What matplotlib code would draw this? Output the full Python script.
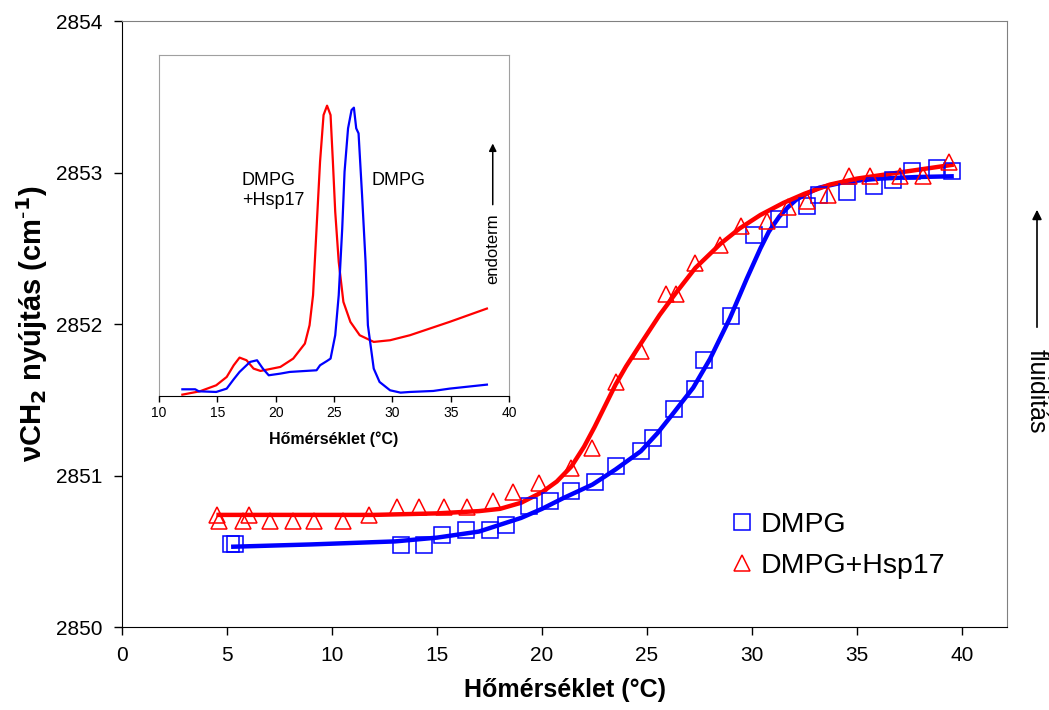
import numpy as np
import matplotlib.pyplot as plt

plt.rcParams['font.family'] = ['Liberation Sans', 'DejaVu Sans']

# ---- main plot: measured points ----
dmpg_x = [5.2, 5.4, 13.3, 14.4, 15.25, 16.4, 17.5, 18.3, 19.4, 20.4, 21.4, 22.5,
          23.5, 24.7, 25.3, 26.3, 27.3, 27.7, 29.0, 30.1, 31.3, 32.6, 33.2,
          34.5, 35.8, 36.7, 37.6, 38.8, 39.5]
dmpg_y = [2850.55, 2850.55, 2850.54, 2850.54, 2850.61, 2850.64, 2850.64, 2850.67,
          2850.80, 2850.83, 2850.90, 2850.96, 2851.06, 2851.16, 2851.25, 2851.44,
          2851.57, 2851.76, 2852.05, 2852.59, 2852.69, 2852.78, 2852.85, 2852.87,
          2852.91, 2852.95, 2853.01, 2853.03, 2853.01]

hsp_x = [4.5, 4.6, 5.75, 6.05, 7.05, 8.15, 9.15, 10.5, 11.75, 13.1, 14.15, 15.35,
         16.45, 17.65, 18.6, 19.85, 21.4, 22.4, 23.5, 24.7, 25.9, 26.4, 27.3,
         28.45, 29.45, 30.7, 31.7, 32.6, 33.6, 34.6, 35.6, 37.05, 38.15, 39.4]
hsp_y = [2850.74, 2850.70, 2850.70, 2850.74, 2850.70, 2850.70, 2850.70, 2850.70,
         2850.74, 2850.79, 2850.79, 2850.79, 2850.79, 2850.83, 2850.89, 2850.95,
         2851.05, 2851.18, 2851.62, 2851.82, 2852.20, 2852.20, 2852.40, 2852.52,
         2852.65, 2852.68, 2852.77, 2852.81, 2852.85, 2852.98, 2852.98, 2852.98,
         2852.98, 2853.07]

# fitted curves
fit_dmpg_x = [5.3, 9.0, 13.0, 15.0, 17.0, 19.0, 20.0, 21.0, 22.4, 23.5, 24.7,
              25.5, 26.3, 27.2, 28.0, 28.95, 29.75, 30.4, 30.8, 31.3, 31.7,
              32.1, 32.6, 33.2, 34.5, 36.1, 37.8, 39.5]
fit_dmpg_y = [2850.53, 2850.545, 2850.565, 2850.59, 2850.63, 2850.72, 2850.78,
              2850.85, 2850.94, 2851.04, 2851.16, 2851.28, 2851.42, 2851.58,
              2851.77, 2852.04, 2852.30, 2852.50, 2852.61, 2852.71, 2852.77,
              2852.82, 2852.86, 2852.90, 2852.94, 2852.96, 2852.97, 2852.975]

fit_hsp_x = [4.6, 8.0, 12.0, 15.0, 17.0, 18.0, 19.0, 20.0, 20.7, 21.4, 22.0,
             22.5, 23.0, 23.5, 24.0, 24.7, 25.6, 26.4, 27.3, 28.5, 29.4, 30.4,
             31.5, 32.5, 33.7, 35.0, 36.5, 38.0, 39.5]
fit_hsp_y = [2850.74, 2850.74, 2850.74, 2850.75, 2850.765, 2850.78, 2850.82,
             2850.89, 2850.96, 2851.06, 2851.19, 2851.32, 2851.46, 2851.60,
             2851.72, 2851.87, 2852.06, 2852.21, 2852.37, 2852.53, 2852.63,
             2852.72, 2852.80, 2852.86, 2852.92, 2852.96, 2852.99, 2853.02,
             2853.05]

# ---- inset: DSC curves ----
dsc_dmpg_x = [12.0, 13.1, 13.4, 14.9, 15.8, 16.4, 16.9, 17.8, 18.4, 18.9, 19.4,
              20.4, 21.2, 22.1, 23.5, 23.8, 24.4, 24.7, 25.1, 25.4, 25.7, 25.9,
              26.2, 26.5, 26.7, 26.9, 27.1, 27.4, 27.7, 27.9, 28.4, 28.9, 29.8,
              30.7, 31.5, 33.5, 34.9, 38.1]
dsc_dmpg_y = [2.0, 2.0, 1.4, 1.2, 2.2, 5.0, 7.2, 10.2, 10.7, 8.2, 6.2, 6.7, 7.2,
              7.4, 7.7, 9.2, 10.5, 11.2, 18.2, 30.2, 50.2, 67.2, 80.2, 85.7,
              86.4, 80.2, 78.7, 60.2, 40.2, 21.2, 8.2, 4.2, 1.7, 1.0, 1.2, 1.5,
              2.2, 3.4]

dsc_hsp_x = [12.0, 13.5, 14.9, 15.8, 16.4, 16.9, 17.5, 18.1, 18.7, 20.4, 21.5,
             22.5, 22.9, 23.2, 23.5, 23.8, 24.1, 24.4, 24.7, 24.9, 25.1, 25.4,
             25.8, 26.4, 27.2, 28.4, 29.8, 31.5, 34.9, 36.9, 38.1]
dsc_hsp_y = [0.4, 1.4, 3.2, 5.7, 9.2, 11.5, 10.7, 8.2, 7.5, 8.7, 11.2, 15.7,
             21.2, 30.2, 50.2, 70.2, 84.2, 87.0, 84.2, 70.2, 55.2, 40.2, 28.2,
             22.2, 18.2, 16.2, 16.7, 18.2, 22.2, 24.7, 26.2]

fig = plt.figure(figsize=(10.49, 7.10), dpi=100)
ax = fig.add_axes([0.1163, 0.1169, 0.8437, 0.8535])

ax.plot(fit_dmpg_x, fit_dmpg_y, '-', color='#0000ff', lw=3.2, zorder=2)
ax.plot(fit_hsp_x, fit_hsp_y, '-', color='#ff0000', lw=3.2, zorder=2)
ax.plot(dmpg_x, dmpg_y, 's', ms=11, mfc='none', mec='#0000ff', mew=1.1,
        label='DMPG', zorder=3)
ax.plot(hsp_x, hsp_y, '^', ms=11, mfc='none', mec='#ff0000', mew=1.1,
        label='DMPG+Hsp17', zorder=3)

ax.set_xlim(0, 42.14)
ax.set_ylim(2850, 2854)
ax.set_xticks(np.arange(0, 41, 5))
ax.set_yticks(np.arange(2850, 2855, 1))
ax.tick_params(direction='out', length=6, width=1, labelsize=15, pad=8)
for s in ['top', 'right']:
    ax.spines[s].set_color('#808080')
ax.set_xlabel('Hőmérséklet (°C)', fontsize=18, fontweight='bold', labelpad=9)
ax.set_ylabel(r'νCH$_\mathbf{2}$ nyújtás (cm$^{\mathbf{\text{-}1}}$)',
              fontsize=21, fontweight='bold', labelpad=4)

leg = ax.legend(loc='upper left', bbox_to_anchor=(0.672, 0.208), frameon=False,
                fontsize=20.5, handletextpad=0.15, labelspacing=0.5,
                handlelength=1.0, borderaxespad=0)

# fluidity arrow on the right
ax.annotate('', xy=(1037 / 1049, 1 - 207 / 710), xytext=(1037 / 1049, 1 - 330 / 710),
            xycoords='figure fraction', textcoords='figure fraction',
            arrowprops=dict(arrowstyle='-|>', color='black', lw=1.2,
                            mutation_scale=14))
fig.text(1037 / 1049, 1 - 391 / 710, 'fluiditás', rotation=-90, fontsize=18,
         ha='center', va='center')

# ---- inset ----
ins = fig.add_axes([0.1516, 0.4423, 0.3337, 0.4803])
ins.plot(dsc_hsp_x, dsc_hsp_y, '-', color='#ff0000', lw=1.6)
ins.plot(dsc_dmpg_x, dsc_dmpg_y, '-', color='#0000ff', lw=1.6)
ins.set_xlim(10, 40)
ins.set_ylim(0, 102.2)
ins.set_xticks(np.arange(10, 41, 5))
ins.set_yticks([])
ins.tick_params(direction='out', length=4, width=1, labelsize=10)
for s in ['top', 'right', 'left']:
    ins.spines[s].set_color('#a0a0a0')
ins.set_xlabel('Hőmérséklet (°C)', fontsize=11.5, fontweight='bold', labelpad=8)
ins.text(17.1, 67, 'DMPG\n+Hsp17', fontsize=13, ha='left', va='top',
         linespacing=1.2)
ins.text(28.2, 67, 'DMPG', fontsize=13, ha='left', va='top')
ins.annotate('', xy=(38.6, 76.5), xytext=(38.6, 56.5),
             arrowprops=dict(arrowstyle='-|>', color='black', lw=1.1,
                             mutation_scale=11))
ins.text(38.6, 44, 'endoterm', rotation=90, fontsize=12, ha='center',
         va='center')

fig.savefig('out.png', dpi=100)
